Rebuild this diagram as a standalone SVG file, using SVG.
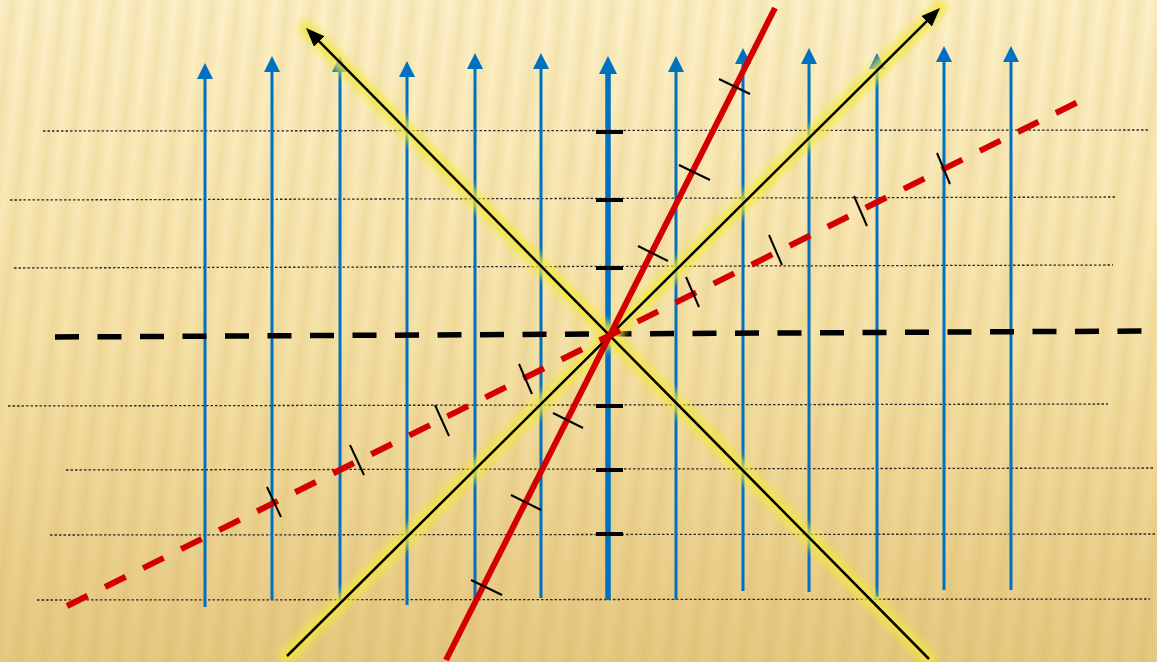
<svg xmlns="http://www.w3.org/2000/svg" width="1157" height="662" viewBox="0 0 1157 662">
  <defs>
    <linearGradient id="bg" x1="0" y1="0" x2="0" y2="1">
      <stop offset="0" stop-color="#fdf1c8"/>
      <stop offset="0.5" stop-color="#f6e3aa"/>
      <stop offset="1" stop-color="#e6c982"/>
    </linearGradient>
    <linearGradient id="stripeG" x1="0" y1="0" x2="1" y2="0">
      <stop offset="0" stop-color="#c8a040" stop-opacity="0"/>
      <stop offset="0.5" stop-color="#c8a040" stop-opacity="0.16"/>
      <stop offset="1" stop-color="#c8a040" stop-opacity="0"/>
    </linearGradient>
    <pattern id="stripes" width="25" height="662" patternUnits="userSpaceOnUse" patternTransform="skewX(-6)">
      <rect x="0" y="0" width="25" height="662" fill="url(#stripeG)"/>
    </pattern>
    <filter id="blur" x="-10%" y="-10%" width="120%" height="120%">
      <feGaussianBlur stdDeviation="3.5"/>
    </filter>
    <marker id="blueArrow" viewBox="0 0 16 16" refX="12" refY="8" markerWidth="16" markerHeight="16" markerUnits="userSpaceOnUse" orient="auto">
      <path d="M0,0 L16,8 L0,16 Z" fill="#0070c0"/>
    </marker>
    <marker id="blueArrowBig" viewBox="0 0 18 18" refX="12" refY="9" markerWidth="18" markerHeight="18" markerUnits="userSpaceOnUse" orient="auto">
      <path d="M0,0 L18,9 L0,18 Z" fill="#0070c0"/>
    </marker>
    <marker id="blackArrow" viewBox="0 0 19 15" refX="15" refY="7.5" markerWidth="19" markerHeight="15" markerUnits="userSpaceOnUse" orient="auto">
      <path d="M0,0 L19,7.5 L0,15 Z" fill="#000"/>
    </marker>
    <style>
      .dot { stroke: #2a2a2a; stroke-width: 1.3; stroke-dasharray: 2.5 2; fill: none; }
      .blue { stroke: #0070c0; stroke-width: 3; fill: none; marker-end: url(#blueArrow); }
      .blueThick { stroke: #0070c0; stroke-width: 5.5; fill: none; marker-end: url(#blueArrowBig); }
      .axisTick { stroke: #000; stroke-width: 4; }
      .glow { stroke: #f2e840; stroke-width: 15; stroke-linecap: round; opacity: 0.8; fill: none; filter: url(#blur); }
      .diag { stroke: #000; stroke-width: 2.5; fill: none; marker-end: url(#blackArrow); }
      .red { stroke: #d40000; stroke-width: 6; fill: none; }
      .redDash { stroke: #d40000; stroke-width: 6; stroke-dasharray: 23 19.5; fill: none; }
      .blackDash { stroke: #000; stroke-width: 5.5; stroke-dasharray: 24 18.5; fill: none; }
      .tick { stroke: #000; stroke-width: 2; }
    </style>
  </defs>

  <g id="background">
    <rect x="0" y="0" width="1157" height="662" fill="url(#bg)"/>
    <rect x="0" y="0" width="1157" height="662" fill="url(#stripes)"/>
  </g>

  <g id="grid-lines">
    <line class="dot" x1="43" y1="131" x2="1150" y2="130"/>
    <line class="dot" x1="10" y1="200" x2="1115" y2="197"/>
    <line class="dot" x1="14" y1="268" x2="1113" y2="265"/>
    <line class="dot" x1="8" y1="406" x2="1108" y2="404"/>
    <line class="dot" x1="66" y1="470" x2="1155" y2="468"/>
    <line class="dot" x1="50" y1="535" x2="1155" y2="534"/>
    <line class="dot" x1="37" y1="600" x2="1150" y2="599"/>
  </g>

  <g id="field-lines">
    <line class="blue" x1="205" y1="607" x2="205" y2="67"/>
    <line class="blue" x1="272" y1="600" x2="272" y2="60"/>
    <line class="blue" x1="340" y1="600" x2="340" y2="60"/>
    <line class="blue" x1="407" y1="605" x2="407" y2="65"/>
    <line class="blue" x1="475" y1="600" x2="475" y2="57"/>
    <line class="blue" x1="541" y1="598" x2="541" y2="57"/>
    <line class="blueThick" x1="608" y1="600" x2="608" y2="62"/>
    <line class="blue" x1="676" y1="600" x2="676" y2="60"/>
    <line class="blue" x1="743" y1="591" x2="743" y2="52"/>
    <line class="blue" x1="809" y1="592" x2="809" y2="52"/>
    <line class="blue" x1="877" y1="597" x2="877" y2="57"/>
    <line class="blue" x1="944" y1="590" x2="944" y2="50"/>
    <line class="blue" x1="1011" y1="590" x2="1011" y2="50"/>
  </g>

  <g id="axis-ticks">
    <line class="axisTick" x1="596" y1="132" x2="623" y2="132"/>
    <line class="axisTick" x1="596" y1="200" x2="623" y2="200"/>
    <line class="axisTick" x1="596" y1="268" x2="623" y2="268"/>
    <line class="axisTick" x1="596" y1="406" x2="623" y2="406"/>
    <line class="axisTick" x1="596" y1="470" x2="623" y2="470"/>
    <line class="axisTick" x1="596" y1="534" x2="623" y2="534"/>
  </g>

  <g id="horizontal-dashed">
    <line class="blackDash" x1="55" y1="337" x2="1143" y2="331"/>
  </g>

  <g id="glow">
    <line class="glow" x1="287" y1="656" x2="940" y2="8"/>
    <line class="glow" x1="929" y1="659" x2="306" y2="28"/>
  </g>

  <g id="connectors">
    <line class="diag" x1="287" y1="656" x2="937.2" y2="10.8"/>
    <line class="diag" x1="929" y1="659" x2="308.8" y2="30.8"/>
  </g>

  <g id="red-lines">
    <line class="redDash" x1="67" y1="606" x2="1080" y2="101"/>
    <line class="red" x1="446" y1="660" x2="775" y2="8"/>
  </g>

  <g id="red-ticks">
    <line class="tick" x1="719" y1="79" x2="750" y2="94"/>
    <line class="tick" x1="679" y1="165" x2="710" y2="180"/>
    <line class="tick" x1="638" y1="246" x2="668" y2="261"/>
    <line class="tick" x1="553" y1="413" x2="583" y2="428"/>
    <line class="tick" x1="511" y1="495" x2="541" y2="510"/>
    <line class="tick" x1="471" y1="580" x2="502" y2="595"/>
    <line class="tick" x1="267" y1="487" x2="281" y2="517"/>
    <line class="tick" x1="350" y1="445" x2="364" y2="475"/>
    <line class="tick" x1="435" y1="405" x2="449" y2="436"/>
    <line class="tick" x1="519" y1="364" x2="532" y2="394"/>
    <line class="tick" x1="686" y1="277" x2="699" y2="307"/>
    <line class="tick" x1="769" y1="235" x2="782" y2="265"/>
    <line class="tick" x1="854" y1="196" x2="867" y2="226"/>
    <line class="tick" x1="937" y1="153" x2="950" y2="184"/>
  </g>
</svg>
